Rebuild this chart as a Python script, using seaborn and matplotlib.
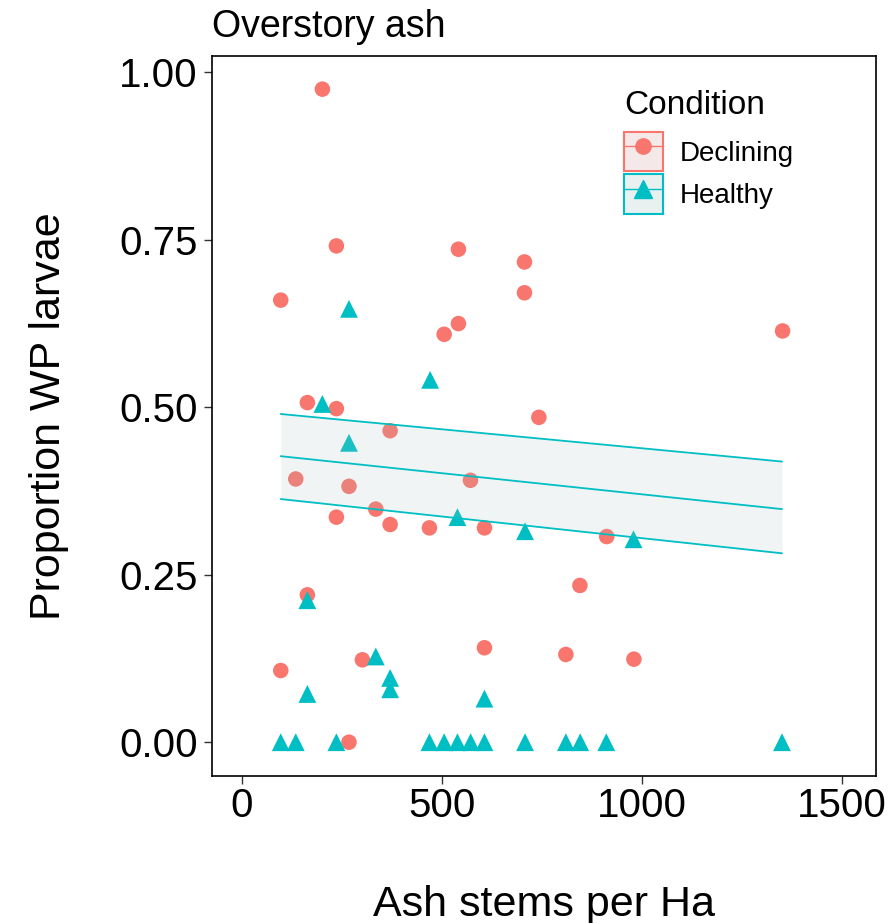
import pandas as pd
import seaborn as sns
import matplotlib.pyplot as plt
from matplotlib.patches import Rectangle
from matplotlib.lines import Line2D

# points
declining_x = [201.5, 236.5, 541.5, 706.5, 706.5, 97.5, 541.5, 505.8, 1351.5, 164,
               236.5, 742.5, 370.8, 135, 268, 571.5, 236.5, 335, 370.8, 469,
               606.5, 912, 845, 164, 606.5, 810, 301.5, 97.5, 268, 980]
declining_y = [0.975, 0.741, 0.736, 0.717, 0.671, 0.660, 0.625, 0.609, 0.614, 0.507,
               0.498, 0.485, 0.465, 0.393, 0.382, 0.391, 0.336, 0.348, 0.325, 0.320,
               0.320, 0.307, 0.234, 0.220, 0.141, 0.131, 0.123, 0.107, 0.0, 0.124]

healthy_x = [268, 470.8, 201.5, 268, 539, 708, 979, 164, 335, 370.8, 370.8, 164, 606.5,
             97.5, 135, 236.5, 469, 505.8, 539, 572, 606.5, 708, 810, 845.8, 911, 1350]
healthy_y = [0.647, 0.541, 0.505, 0.447, 0.336, 0.315, 0.303, 0.212, 0.128, 0.096, 0.079, 0.072, 0.065,
             0, 0, 0, 0, 0, 0, 0, 0, 0, 0, 0, 0, 0]

# fitted line and confidence band
fit_x = [97.5, 1350]
fit_mid = [0.427, 0.348]
fit_hi = [0.490, 0.419]
fit_lo = [0.363, 0.282]

x_ticks = [0, 500, 1000, 1500]
y_ticks = [0, 0.25, 0.5, 0.75, 1.0]
y_tick_labels = ['0.00', '0.25', '0.50', '0.75', '1.00']

red = '#F8766D'
cyan = '#00BFC4'

df = pd.DataFrame({
    'stems': declining_x + healthy_x,
    'prop': declining_y + healthy_y,
    'Condition': ['Declining'] * len(declining_x) + ['Healthy'] * len(healthy_x),
})

sns.set_style('white')
plt.rcParams['font.family'] = ['Liberation Sans', 'DejaVu Sans']
plt.rcParams['text.color'] = 'black'
plt.rcParams['axes.labelcolor'] = 'black'

fig = plt.figure(figsize=(8.96, 9.23), dpi=100)
ax = fig.add_axes([0.2363, 0.1596, 0.7414, 0.7801])

sns.scatterplot(data=df, x='stems', y='prop', hue='Condition', style='Condition',
                size='Condition', sizes={'Declining': 125, 'Healthy': 165},
                markers={'Declining': 'o', 'Healthy': '^'},
                palette={'Declining': red, 'Healthy': cyan},
                linewidth=0, legend=False, ax=ax, zorder=2)

ax.fill_between(fit_x, fit_lo, fit_hi, color='#a9c2c2', alpha=0.17, lw=0, zorder=3)
for yy in (fit_mid, fit_hi, fit_lo):
    sns.lineplot(x=fit_x, y=yy, color=cyan, lw=1.3, ax=ax, zorder=4)

ax.set_xlim(-75, 1585)
ax.set_ylim(-0.05, 1.025)
ax.set_xticks(x_ticks)
ax.set_yticks(y_ticks)
ax.set_yticklabels(y_tick_labels)
ax.tick_params(axis='both', length=6, width=1, color='#333333', labelsize=29,
               labelcolor='black', bottom=True, left=True)
ax.tick_params(axis='x', pad=2)
ax.tick_params(axis='y', pad=4)
for s in ax.spines.values():
    s.set_color('black')
    s.set_linewidth(1.2)

ax.set_title('Overstory ash', loc='left', fontsize=27, pad=13.7, color='black')
ax.set_xlabel('Ash stems per Ha', fontsize=31, labelpad=43)
ax.set_ylabel('Proportion WP larvae', fontsize=31, labelpad=36)

h1 = (Rectangle((0, 0), 1, 1, facecolor='#f4e9e8', edgecolor=red, lw=1.5),
      Line2D([], [], color=red, marker='o', markersize=11, lw=1))
h2 = (Rectangle((0, 0), 1, 1, facecolor='#e9f0f0', edgecolor=cyan, lw=1.5),
      Line2D([], [], color=cyan, marker='^', markersize=13, lw=1))
leg = ax.legend(handles=[h1, h2], labels=['Declining', 'Healthy'], title='Condition',
                loc='upper left', bbox_to_anchor=(624 / 896, 1 - 90 / 923),
                bbox_transform=fig.transFigure, frameon=False, fontsize=20,
                title_fontsize=24, handlelength=1.4, handleheight=1.8,
                handletextpad=0.6, labelspacing=0.1, borderpad=0, borderaxespad=0,
                alignment='left')
leg._legend_box.sep = 8

fig.savefig('out.png', dpi=100)
